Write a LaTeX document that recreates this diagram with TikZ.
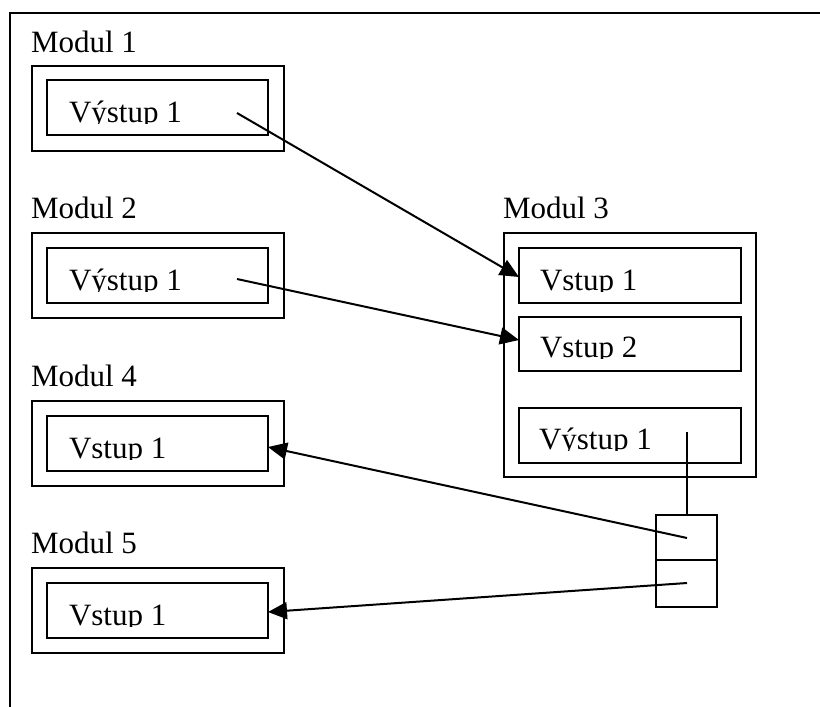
\documentclass[tikz,border=0pt]{standalone}
\usepackage{fontspec}
\setmainfont{Liberation Serif}
\usetikzlibrary{arrows.meta}
\begin{document}
\begin{tikzpicture}[x=1pt,y=-1pt,
  box/.style={draw, line width=2pt, inner sep=0pt, outer sep=0pt, anchor=north west},
  txt/.style={anchor=base west, inner sep=0pt, outer sep=0pt, font=\fontsize{31}{31}\selectfont},
  conn/.style={line width=2pt},
  arr/.style={line width=2pt, -{Triangle[length=19pt,width=17pt]}}]
\useasboundingbox (0,0) rectangle (820,707);
% outer frame
\draw[line width=2.5pt] (10,707) -- (10,13) -- (820,13);
% Modul 1
\node[txt] (l1) at (31,52) {Modul 1};
\node[box, minimum width=252pt, minimum height=85pt] (m1o) at (32,66) {};
\node[box, minimum width=221pt, minimum height=55pt] (m1i) at (47,80) {};
\begin{scope}\clip (47,80) rectangle (268,123.5);
\node[txt] (t1) at (69,122) {Výstup 1};\end{scope}
% Modul 2
\node[txt] (l2) at (31,218) {Modul 2};
\node[box, minimum width=252pt, minimum height=85pt] (m2o) at (32,233) {};
\node[box, minimum width=221pt, minimum height=55pt] (m2i) at (47,248) {};
\begin{scope}\clip (47,248) rectangle (268,291.5);
\node[txt] (t2) at (69,290) {Výstup 1};\end{scope}
% Modul 4
\node[txt] (l4) at (31,386) {Modul 4};
\node[box, minimum width=252pt, minimum height=85pt] (m4o) at (32,401) {};
\node[box, minimum width=221pt, minimum height=55pt] (m4i) at (47,416) {};
\begin{scope}\clip (47,416) rectangle (268,459.5);
\node[txt] (t4) at (69,458) {Vstup 1};\end{scope}
% Modul 5
\node[txt] (l5) at (31,553) {Modul 5};
\node[box, minimum width=252pt, minimum height=85pt] (m5o) at (32,568) {};
\node[box, minimum width=221pt, minimum height=55pt] (m5i) at (47,583) {};
\begin{scope}\clip (47,583) rectangle (268,626.5);
\node[txt] (t5) at (69,625) {Vstup 1};\end{scope}
% Modul 3
\node[txt] (l3) at (503,218) {Modul 3};
\node[box, minimum width=252pt, minimum height=244pt] (m3o) at (504,233) {};
\node[box, minimum width=222pt, minimum height=55pt] (m3a) at (519,248) {};
\node[box, minimum width=222pt, minimum height=54pt] (m3b) at (519,317) {};
\node[box, minimum width=222pt, minimum height=55pt] (m3c) at (519,408) {};
\begin{scope}\clip (519,248) rectangle (741,291.5);
\node[txt] (t3a) at (540,290) {Vstup 1};\end{scope}
\begin{scope}\clip (519,317) rectangle (741,358.5);
\node[txt] (t3b) at (540,357) {Vstup 2};\end{scope}
\begin{scope}\clip (519,408) rectangle (741,450.5);
\node[txt] (t3c) at (539,449) {Výstup 1};\end{scope}
% split box
\node[box, minimum width=61pt, minimum height=45pt] (sb1) at (656,515) {};
\node[box, minimum width=61pt, minimum height=47pt] (sb2) at (656,560) {};
% connectors
\coordinate (v) at (686.5,432);
\draw[conn] (v) -- (v |- sb1.north);
\coordinate (s1) at (237,113);
\coordinate (s2) at (237,279);
\coordinate (s3) at (687,538);
\coordinate (s4) at (687,583);
\draw[arr] (s1) -- ([yshift=-1.5pt]m3a.west);
\draw[arr] (s2) -- ([yshift=4pt]m3b.west);
\draw[arr] (s3) -- ([yshift=-3.5pt]m4i.east);
\draw[arr] (s4) -- ([yshift=-1.5pt]m5i.east);
\end{tikzpicture}
\end{document}
